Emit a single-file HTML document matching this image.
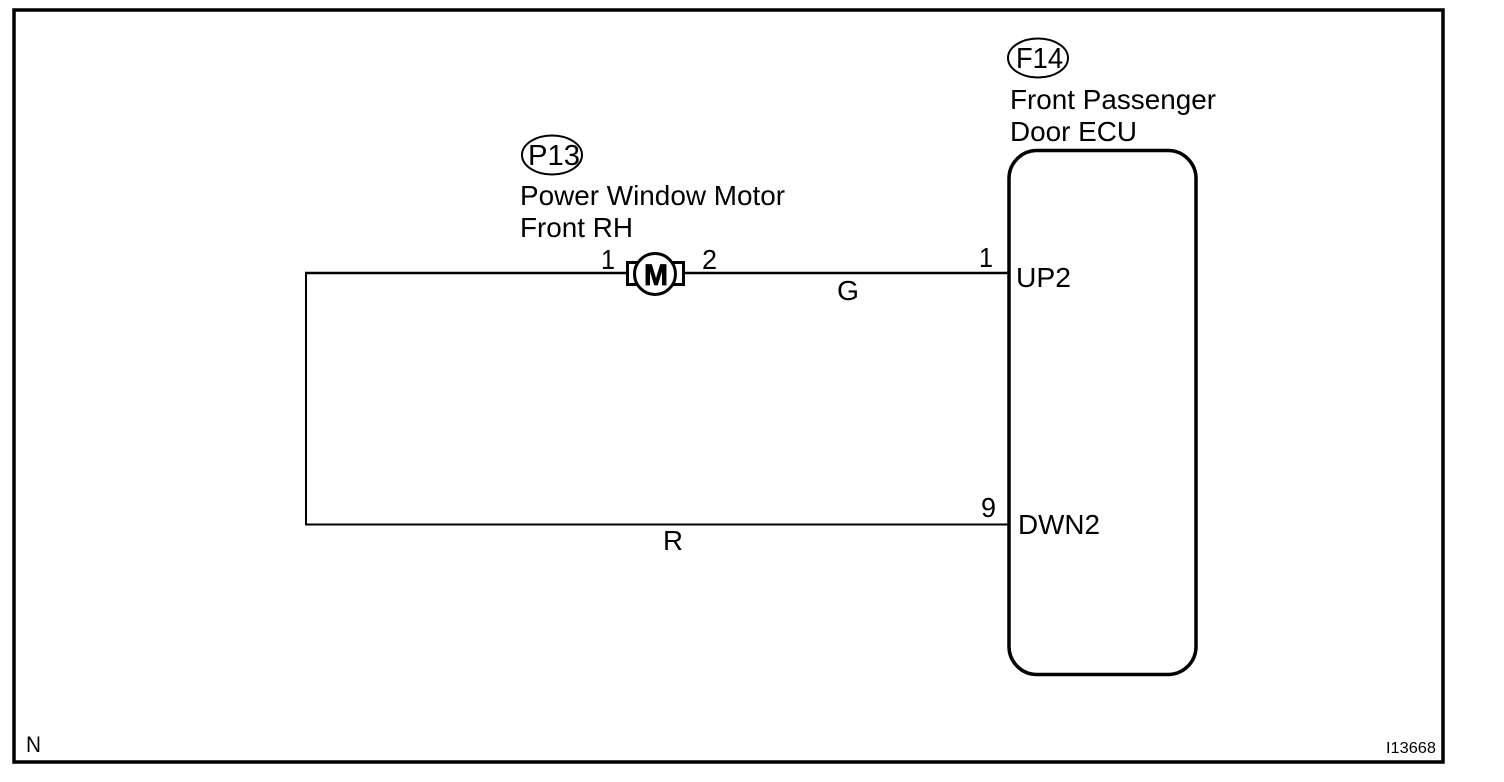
<!DOCTYPE html>
<html>
<head>
<meta charset="utf-8">
<style>
html,body{margin:0;padding:0;background:#fff;width:1504px;height:782px;overflow:hidden}
svg{display:block}
text{font-family:"Liberation Sans",Arial,sans-serif;fill:#000}
</style>
</head>
<body>
<svg width="1504" height="782" viewBox="0 0 1504 782" xmlns="http://www.w3.org/2000/svg">
<rect width="1504" height="782" fill="#fff"/>
<!-- Frame -->
<rect x="14" y="10" width="1429" height="752" fill="none" stroke="#000" stroke-width="3.5"/>
<!-- ECU -->
<rect x="1009" y="150.500" width="187" height="524" rx="28" ry="28" fill="none" stroke="#000" stroke-width="3.500"/>
<!-- Wires -->
<path d="M306 273V524.500H1008" fill="none" stroke="#000" stroke-width="2"/>
<path d="M684 273H1008" fill="none" stroke="#000" stroke-width="2.500"/>
<path d="M305 273H626" fill="none" stroke="#000" stroke-width="2.500"/>
<!-- Motor -->
<rect x="627.500" y="262.500" width="56" height="22" fill="#fff" stroke="#000" stroke-width="3"/>
<circle cx="655" cy="274" r="20.500" fill="#fff" stroke="#000" stroke-width="3"/>
<text x="656" y="285" font-size="30" font-weight="700" text-anchor="middle" textLength="24" lengthAdjust="spacingAndGlyphs" stroke="#000" stroke-width="0.800">M</text>
<!-- Ellipses -->
<ellipse cx="552" cy="155" rx="30" ry="19.500" fill="none" stroke="#000" stroke-width="2"/>
<ellipse cx="1038" cy="58" rx="30" ry="19.500" fill="none" stroke="#000" stroke-width="2"/>
<!-- Labels -->
<text x="528" y="165" font-size="29" textLength="52" lengthAdjust="spacingAndGlyphs">P13</text>
<text x="520" y="205" font-size="28" textLength="265" lengthAdjust="spacingAndGlyphs">Power Window Motor</text>
<text x="520" y="237" font-size="28" textLength="113" lengthAdjust="spacingAndGlyphs">Front RH</text>
<text x="1016" y="68" font-size="29" textLength="47" lengthAdjust="spacingAndGlyphs">F14</text>
<text x="1010" y="109" font-size="28" textLength="206" lengthAdjust="spacingAndGlyphs">Front Passenger</text>
<text x="1010" y="141" font-size="28" textLength="127" lengthAdjust="spacingAndGlyphs">Door ECU</text>
<text x="601" y="269" font-size="28" textLength="14" lengthAdjust="spacingAndGlyphs">1</text>
<text x="702" y="269" font-size="28" textLength="15" lengthAdjust="spacingAndGlyphs">2</text>
<text x="979" y="267" font-size="28" textLength="14" lengthAdjust="spacingAndGlyphs">1</text>
<text x="1016" y="287" font-size="28" textLength="55" lengthAdjust="spacingAndGlyphs">UP2</text>
<text x="837" y="300" font-size="28" textLength="22" lengthAdjust="spacingAndGlyphs">G</text>
<text x="981" y="517" font-size="28" textLength="15" lengthAdjust="spacingAndGlyphs">9</text>
<text x="1018" y="534" font-size="28" textLength="82" lengthAdjust="spacingAndGlyphs">DWN2</text>
<text x="663" y="550" font-size="28" textLength="20" lengthAdjust="spacingAndGlyphs">R</text>
<text x="26" y="752" font-size="22" textLength="15" lengthAdjust="spacingAndGlyphs">N</text>
<text x="1386" y="753" font-size="15.500" textLength="50" lengthAdjust="spacingAndGlyphs">I13668</text>
</svg>
</body>
</html>
